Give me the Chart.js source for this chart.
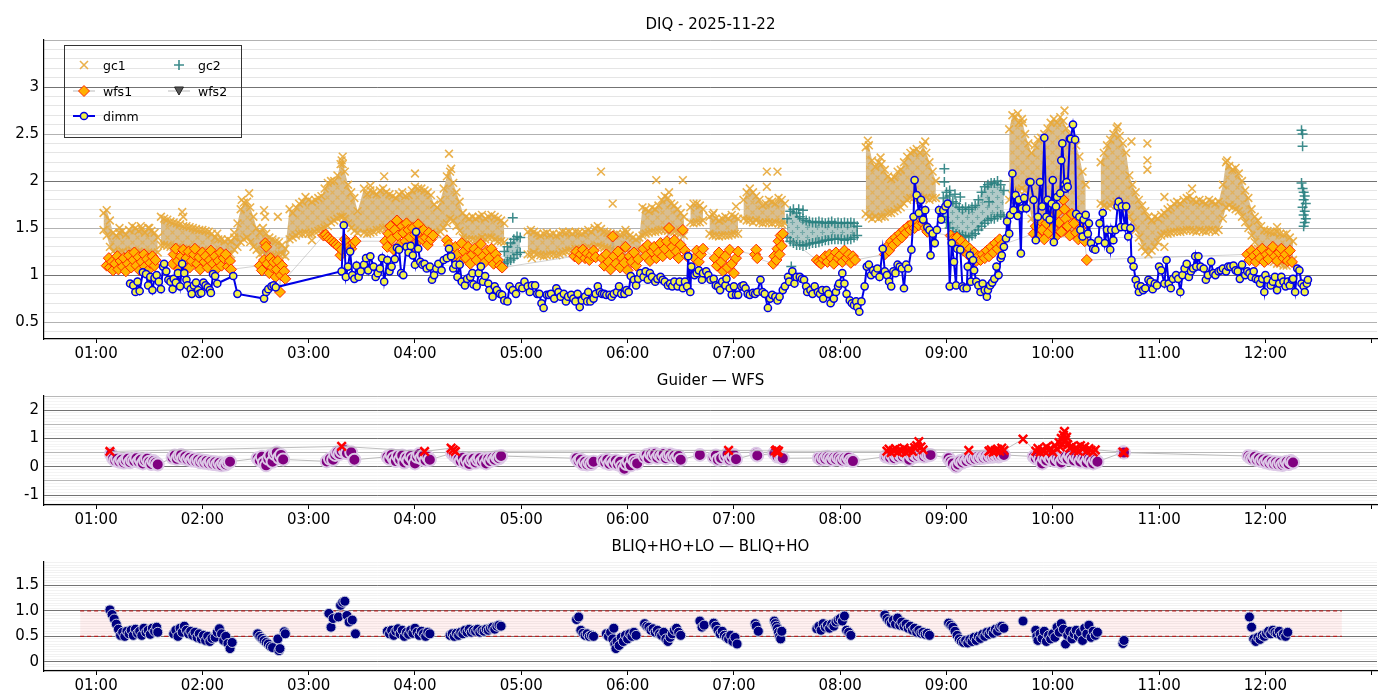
<!DOCTYPE html>
<html>
<head>
<meta charset="utf-8">
<script src="https://cdn.jsdelivr.net/npm/chart.js@4.4.1/dist/chart.umd.min.js"></script>
<style>
  html, body { margin: 0; padding: 0; background: #fff; overflow: hidden; }
  .panel { position: absolute; left: 0; width: 1400px; }
</style>
</head>
<body>
<div class="panel" style="top:0;height:365px"><canvas id="c1"></canvas></div>
<div class="panel" style="top:365px;height:165px"><canvas id="c2"></canvas></div>
<div class="panel" style="top:530px;height:170px"><canvas id="c3"></canvas></div>
<script>
// time axis: decimal hours UT
const hourTicks = [1, 2, 3, 4, 5, 6, 7, 8, 9, 10, 11, 12, 13];
const hourLabels = ['01:00', '02:00', '03:00', '04:00', '05:00', '06:00', '07:00', '08:00', '09:00', '10:00', '11:00', '12:00', ''];
const titles = ['DIQ - 2025-11-22', 'Guider \u2014 WFS', 'BLIQ+HO+LO \u2014 BLIQ+HO'];
const seriesNames = ['gc1', 'gc2', 'wfs1', 'wfs2', 'dimm'];

const diqTicks = [0.5, 1, 1.5, 2, 2.5, 3];
const diqTickText = ['0.5', '1', '1.5', '2', '2.5', '3'];
const gwTicks = [-1, 0, 1, 2];
const gwTickText = ['-1', '0', '1', '2'];
const blTicks = [0, 0.5, 1, 1.5];
const blTickText = ['0', '0.5', '1.0', '1.5'];

// [time, value]
const dimm = [
  [1.32,.91],[1.35,.89],[1.37,.82],[1.39,.93],[1.41,.83],[1.44,1.03],[1.47,1.01],[1.49,.89],[1.51,.98],[1.53,.84],
  [1.55,.97],[1.57,1.00],[1.59,.93],[1.61,.85],[1.63,1.09],[1.64,1.12],[1.66,1.04],[1.68,.95],[1.70,.93],[1.72,.85],
  [1.73,.96],[1.75,.92],[1.77,1.02],[1.79,.88],[1.81,1.12],[1.83,1.02],[1.85,.95],[1.86,.89],[1.89,.85],[1.90,.80],
  [1.92,.89],[1.94,.92],[1.96,.84],[1.97,.80],[1.99,.81],[2.01,.92],[2.03,.89],[2.05,.87],[2.07,.84],[2.08,.81],
  [2.10,1.01],[2.12,.99],[2.14,.91],[2.29,.99],[2.33,.80],[2.58,.75],[2.60,.82],[2.62,.85],[2.65,.88],[2.67,.89],[2.69,.87],
  [3.31,1.04],[3.33,1.53],[3.35,.98],[3.37,1.09],[3.39,1.25],[3.41,1.00],[3.43,.96],[3.45,1.10],[3.47,.98],[3.49,1.04],
  [3.52,1.11],[3.54,1.18],[3.56,1.05],[3.58,1.20],[3.61,1.09],[3.63,.98],[3.65,1.02],[3.67,1.07],[3.69,1.18],[3.71,.93],
  [3.74,1.16],[3.76,1.04],[3.78,1.09],[3.81,1.17],[3.83,1.29],[3.85,1.27],[3.87,1.02],[3.89,1.00],[3.92,1.30],[3.94,1.24],
  [3.96,1.31],[3.98,1.21],[4.00,1.11],[4.01,1.46],[4.03,1.28],[4.05,1.14],[4.07,1.11],[4.09,1.12],[4.11,1.07],[4.14,1.09],
  [4.16,.95],[4.18,1.00],[4.20,1.07],[4.22,1.12],[4.25,1.05],[4.27,1.16],[4.30,1.18],[4.32,1.28],[4.34,1.20],[4.36,1.07],
  [4.38,1.11],[4.40,.98],[4.42,1.11],[4.44,.93],[4.47,.89],[4.49,.96],[4.52,.98],[4.54,1.02],[4.55,.90],[4.58,.88],
  [4.60,1.02],[4.62,1.09],[4.64,.93],[4.66,.99],[4.69,.91],[4.70,.84],[4.73,.77],[4.75,.88],[4.77,.84],[4.80,.80],
  [4.82,.79],[4.84,.73],[4.87,.72],[4.89,.88],[4.92,.84],[4.95,.80],[4.98,.88],[5.01,.86],[5.03,.93],[5.06,.88],
  [5.08,.82],[5.10,.89],[5.13,.89],[5.15,.80],[5.17,.80],[5.19,.70],[5.21,.65],[5.24,.79],[5.26,.79],[5.28,.80],
  [5.31,.75],[5.33,.86],[5.35,.82],[5.37,.77],[5.40,.80],[5.42,.72],[5.44,.77],[5.47,.79],[5.49,.75],[5.51,.72],
  [5.53,.80],[5.55,.66],[5.57,.73],[5.60,.77],[5.62,.72],[5.63,.82],[5.65,.72],[5.68,.75],[5.70,.80],[5.72,.88],
  [5.74,.82],[5.76,.80],[5.78,.80],[5.80,.79],[5.83,.79],[5.85,.77],[5.87,.80],[5.90,.82],[5.92,.88],[5.94,.80],
  [5.97,.80],[5.99,.84],[6.01,.82],[6.03,.99],[6.06,.95],[6.08,.89],[6.10,.96],[6.12,1.02],[6.15,.98],[6.17,1.04],
  [6.19,.95],[6.21,1.02],[6.23,.98],[6.26,.93],[6.28,.96],[6.31,.98],[6.33,.95],[6.35,.93],[6.38,.89],[6.40,.91],
  [6.42,.88],[6.44,.93],[6.47,.88],[6.49,.93],[6.52,.86],[6.54,.93],[6.56,.88],[6.57,1.20],[6.59,.82],[6.60,1.09],
  [6.63,1.00],[6.65,1.02],[6.67,1.05],[6.70,.95],[6.71,1.02],[6.74,1.04],[6.76,1.00],[6.78,.95],[6.81,.96],[6.83,.89],
  [6.85,.88],[6.87,.84],[6.89,.93],[6.92,.89],[6.93,.96],[6.96,.86],[6.98,.79],[7.00,.88],[7.02,.79],[7.04,.79],
  [7.07,.88],[7.09,.89],[7.11,.86],[7.13,.80],[7.15,.79],[7.18,.81],[7.20,.80],[7.22,.82],[7.25,.95],[7.27,.82],
  [7.29,.80],[7.32,.65],[7.34,.75],[7.36,.79],[7.39,.77],[7.41,.73],[7.43,.77],[7.46,.84],[7.48,.88],[7.51,.98],
  [7.52,.93],[7.55,1.04],[7.57,.91],[7.59,.98],[7.62,.98],[7.64,.96],[7.66,.95],[7.68,.88],[7.69,.82],[7.72,.84],
  [7.74,.80],[7.76,.88],[7.79,.82],[7.81,.80],[7.83,.84],[7.84,.75],[7.87,.84],[7.89,.80],[7.91,.70],[7.94,.75],
  [7.96,.82],[7.98,.88],[7.99,.91],[8.02,1.02],[8.04,.91],[8.06,.80],[8.09,.73],[8.11,.70],[8.13,.68],[8.15,.72],
  [8.16,.66],[8.18,.61],[8.20,.72],[8.23,.88],[8.25,1.09],[8.27,1.11],[8.29,1.00],[8.31,1.05],[8.33,1.02],[8.35,1.07],
  [8.37,.98],[8.40,1.28],[8.42,1.04],[8.44,1.00],[8.46,.93],[8.48,.88],[8.50,1.04],[8.52,1.02],[8.54,1.11],[8.56,1.09],
  [8.58,1.07],[8.60,.86],[8.62,1.11],[8.64,1.07],[8.67,1.27],[8.69,1.62],[8.70,2.01],[8.72,1.85],[8.74,1.66],[8.76,1.80],
  [8.78,1.59],[8.80,1.69],[8.82,1.51],[8.84,1.48],[8.85,1.21],[8.87,1.44],[8.89,1.34],[8.91,1.48],[8.93,1.69],[8.95,1.59],
  [8.97,1.69],[8.99,1.73],[9.01,1.76],[9.03,.88],[9.05,1.34],[9.07,1.14],[9.09,.89],[9.10,1.28],[9.13,1.27],[9.15,.88],
  [9.16,.86],[9.19,.86],[9.20,1.09],[9.22,1.21],[9.23,.93],[9.25,1.16],[9.26,1.05],[9.28,.93],[9.30,.89],[9.32,.82],
  [9.34,.91],[9.36,.84],[9.38,.77],[9.39,.84],[9.41,.89],[9.43,.92],[9.45,.96],[9.47,1.09],[9.49,1.00],[9.51,1.18],
  [9.52,1.21],[9.54,1.30],[9.56,1.39],[9.57,1.57],[9.59,1.44],[9.60,1.64],[9.62,2.08],[9.63,1.69],[9.65,1.85],[9.67,1.63],
  [9.68,1.80],[9.70,1.23],[9.71,1.71],[9.73,1.82],[9.75,1.71],[9.78,1.99],[9.79,1.99],[9.82,1.80],[9.84,1.37],[9.86,1.62],
  [9.88,1.99],[9.90,1.73],[9.92,2.46],[9.94,1.62],[9.95,1.80],[9.97,1.59],[9.99,1.76],[10.00,2.01],[10.01,1.35],[10.03,1.73],
  [10.04,1.83],[10.07,1.87],[10.08,2.22],[10.09,2.40],[10.11,1.96],[10.12,1.92],[10.13,1.99],[10.14,1.94],[10.16,2.45],[10.17,2.45],
  [10.19,2.60],[10.21,2.44],[10.22,1.65],[10.25,1.62],[10.26,1.48],[10.28,1.41],[10.29,1.59],[10.31,1.64],[10.33,1.44],[10.34,1.55],
  [10.36,1.34],[10.38,1.28],[10.40,1.27],[10.43,1.37],[10.44,1.55],[10.47,1.66],[10.49,1.34],[10.51,1.48],[10.54,1.27],[10.55,1.48],
  [10.57,1.37],[10.59,1.48],[10.61,1.73],[10.62,1.78],[10.64,1.51],[10.65,1.73],[10.68,1.51],[10.69,1.73],[10.71,1.41],[10.73,1.50],
  [10.74,1.16],[10.76,1.09],[10.78,.95],[10.80,.89],[10.81,.82],[10.83,.88],[10.85,.84],[10.87,.86],[10.90,.95],[10.92,.93],
  [10.94,.85],[10.96,.91],[10.98,.89],[11.00,1.09],[11.02,1.05],[11.05,.91],[11.07,1.16],[11.09,.91],[11.11,.86],[11.13,.96],
  [11.16,1.00],[11.18,.96],[11.20,.82],[11.22,1.00],[11.24,1.07],[11.26,1.12],[11.28,.98],[11.30,1.04],[11.32,1.07],[11.34,1.20],
  [11.35,1.09],[11.37,1.20],[11.39,1.09],[11.42,1.07],[11.44,.95],[11.46,1.00],[11.49,1.14],[11.51,1.02],[11.53,1.00],[11.56,1.04],
  [11.58,1.05],[11.60,1.07],[11.63,1.04],[11.65,1.09],[11.67,1.09],[11.70,1.10],[11.72,1.05],[11.74,1.04],[11.76,.96],[11.78,1.11],
  [11.81,1.00],[11.83,1.04],[11.85,1.02],[11.87,.98],[11.89,1.04],[11.91,.96],[11.93,.95],[11.95,.91],[11.97,.96],[11.99,.82],
  [12.00,1.00],[12.02,.95],[12.05,.89],[12.07,.93],[12.09,.98],[12.11,.84],[12.13,.91],[12.15,.98],[12.17,.93],[12.19,.88],
  [12.21,.93],[12.23,.89],[12.25,.95],[12.26,.96],[12.28,.82],[12.30,1.07],[12.32,1.05],[12.34,.91],[12.36,.88],[12.37,.82],
  [12.39,.91],[12.40,.95]
];

// gc1 dense cloud: [time, upper edge, lower edge]; null = no data
const gc1Band = [
  [1.07,1.66,1.48],[1.10,1.69,1.42],[1.13,1.58,1.30],[1.16,1.45,1.25],[1.19,1.42,1.22],[1.22,1.50,1.24],[1.25,1.47,1.25],
  [1.28,1.43,1.22],[1.31,1.48,1.24],[1.34,1.52,1.26],[1.37,1.50,1.24],[1.40,1.47,1.25],[1.43,1.49,1.23],[1.46,1.45,1.22],
  [1.49,1.50,1.24],[1.52,1.47,1.23],[1.55,1.45,1.22],[1.58,1.40,1.24],[1.595,null,null],
  [1.61,1.62,1.32],[1.64,1.60,1.32],[1.67,1.59,1.31],[1.70,1.57,1.30],[1.73,1.56,1.30],[1.76,1.55,1.29],[1.79,1.54,1.28],
  [1.82,1.52,1.28],[1.85,1.52,1.28],[1.88,1.51,1.27],[1.91,1.50,1.27],[1.94,1.49,1.27],[1.97,1.48,1.26],[2.00,1.48,1.26],
  [2.03,1.47,1.25],[2.06,1.46,1.25],[2.09,1.44,1.24],[2.12,1.40,1.23],[2.15,1.38,1.22],[2.18,1.38,1.22],[2.21,1.36,1.21],
  [2.24,1.38,1.22],[2.27,1.36,1.22],[2.30,1.40,1.27],[2.33,1.55,1.30],[2.36,1.70,1.35],[2.39,1.77,1.38],[2.42,1.78,1.40],
  [2.45,1.72,1.35],[2.48,1.62,1.30],[2.51,1.50,1.27],[2.54,1.45,1.22],[2.57,1.50,1.24],[2.60,1.44,1.22],[2.63,1.40,1.20],
  [2.66,1.38,1.20],[2.69,1.36,1.20],[2.72,1.35,1.22],[2.75,1.32,1.22],[2.78,1.28,1.20],
  [2.82,1.70,1.38],[2.85,1.66,1.40],[2.88,1.72,1.42],[2.91,1.76,1.44],[2.94,1.78,1.44],[2.97,1.83,1.45],[3.00,1.80,1.44],
  [3.03,1.78,1.44],[3.06,1.80,1.46],[3.09,1.82,1.47],[3.12,1.84,1.49],[3.15,1.92,1.50],[3.18,1.98,1.52],[3.21,2.00,1.56],
  [3.24,2.00,1.58],[3.27,2.06,1.60],[3.30,2.18,1.62],[3.32,2.26,1.62],[3.34,2.10,1.60],[3.37,1.96,1.55],[3.40,1.88,1.50],
  [3.43,1.82,1.47],[3.46,1.68,1.45],
  [3.52,1.92,1.45],[3.55,1.86,1.44],[3.58,1.90,1.45],[3.61,1.88,1.46],[3.64,1.86,1.48],[3.67,1.90,1.48],[3.70,1.92,1.50],
  [3.73,1.88,1.50],[3.76,1.86,1.50],[3.79,1.84,1.48],[3.82,1.82,1.47],[3.85,1.86,1.47],[3.88,1.88,1.48],[3.91,1.84,1.47],
  [3.94,1.85,1.47],[3.97,1.90,1.48],[4.00,1.94,1.50],[4.03,1.92,1.50],[4.06,1.92,1.50],[4.09,1.90,1.48],[4.12,1.88,1.46],
  [4.15,1.85,1.45],[4.18,1.75,1.43],[4.21,1.72,1.44],[4.24,1.80,1.46],[4.27,1.92,1.50],[4.30,2.05,1.55],[4.33,2.10,1.60],
  [4.36,1.98,1.58],[4.39,1.88,1.52],[4.42,1.78,1.47],[4.45,1.66,1.40],[4.48,1.62,1.38],[4.51,1.60,1.38],[4.54,1.62,1.38],
  [4.57,1.60,1.37],[4.60,1.62,1.38],[4.63,1.64,1.40],[4.66,1.60,1.38],[4.69,1.62,1.40],[4.72,1.64,1.40],[4.75,1.62,1.38],
  [4.78,1.60,1.36],[4.81,1.58,1.36],[4.84,1.55,1.35],[4.95,null,null],
  [5.06,1.46,1.22],[5.09,1.48,1.22],[5.12,1.46,1.24],[5.15,1.44,1.22],[5.18,1.42,1.21],[5.21,1.44,1.20],[5.24,1.45,1.21],
  [5.27,1.43,1.22],[5.30,1.44,1.22],[5.33,1.42,1.21],[5.36,1.44,1.22],[5.39,1.46,1.24],[5.42,1.45,1.25],[5.45,1.46,1.26],
  [5.48,1.44,1.26],[5.51,1.46,1.28],[5.54,1.45,1.28],[5.57,1.44,1.27],[5.60,1.46,1.28],[5.63,1.48,1.30],[5.66,1.46,1.28],
  [5.69,1.50,1.30],[5.72,1.52,1.31],[5.75,1.49,1.30],[5.78,1.46,1.29],[5.81,1.45,1.28],[5.84,1.44,1.27],[5.87,1.42,1.26],
  [5.90,1.44,1.25],[5.93,1.43,1.25],[5.96,1.44,1.24],[5.99,1.45,1.26],[6.02,1.42,1.24],[6.05,1.40,1.22],[6.08,1.38,1.23],
  [6.11,1.40,1.24],[6.14,1.72,1.42],[6.17,1.70,1.44],[6.20,1.68,1.45],[6.23,1.72,1.46],[6.26,1.70,1.46],[6.29,1.74,1.47],
  [6.32,1.80,1.48],[6.35,1.84,1.48],[6.38,1.82,1.47],[6.41,1.76,1.46],[6.44,1.74,1.46],[6.47,1.70,1.45],[6.50,1.66,1.44],
  [6.53,1.62,1.42],[6.56,null,null],
  [6.59,1.72,1.56],[6.62,1.76,1.55],[6.65,1.76,1.56],[6.68,1.74,1.56],[6.71,1.70,1.58],[6.74,null,null],
  [6.77,1.62,1.44],[6.80,1.64,1.42],[6.83,1.60,1.42],[6.86,1.58,1.41],[6.89,1.60,1.42],[6.92,1.62,1.42],[6.95,1.60,1.42],
  [6.98,1.64,1.43],[7.01,1.62,1.44],[7.04,1.60,1.44],[7.065,null,null],
  [7.09,1.80,1.60],[7.12,1.88,1.58],[7.15,1.92,1.58],[7.18,1.88,1.56],[7.21,1.84,1.58],[7.24,1.80,1.56],[7.27,1.74,1.55],
  [7.30,1.76,1.56],[7.33,1.80,1.56],[7.36,1.78,1.55],[7.39,1.76,1.56],[7.42,1.82,1.55],[7.45,1.80,1.54],[7.48,1.76,1.55],
  [7.80,null,null],
  [8.24,2.36,1.65],[8.27,2.38,1.62],[8.30,2.22,1.60],[8.33,2.15,1.62],[8.36,2.20,1.60],[8.39,2.18,1.62],[8.42,2.12,1.62],
  [8.45,2.05,1.66],[8.48,2.02,1.66],[8.51,2.04,1.68],[8.54,2.10,1.70],[8.57,2.12,1.72],[8.60,2.20,1.76],[8.63,2.26,1.80],
  [8.66,2.30,1.82],[8.69,2.32,1.82],[8.72,2.34,1.80],[8.75,2.30,1.80],[8.78,2.38,1.82],[8.81,2.30,1.82],[8.84,2.20,1.80],
  [8.87,2.10,1.82],[8.90,2.00,1.82],[9.20,null,null],
  [9.59,2.55,1.80],[9.62,2.70,1.85],[9.65,2.68,1.88],[9.68,2.62,1.90],[9.71,2.66,1.92],[9.74,2.50,1.90],[9.77,2.40,1.80],
  [9.80,2.30,1.60],[9.83,2.38,1.55],[9.86,2.44,1.52],[9.89,2.46,1.50],[9.92,2.50,1.48],[9.95,2.56,1.47],[9.98,2.62,1.48],
  [10.01,2.66,1.50],[10.04,2.62,1.50],[10.07,2.68,1.48],[10.10,2.64,1.46],[10.13,2.56,1.45],[10.16,2.50,1.45],[10.19,2.44,1.46],
  [10.22,2.38,1.46],[10.25,2.26,1.44],[10.28,2.10,1.42],[10.31,1.96,1.40],[10.40,null,null],
  [10.45,2.20,1.76],[10.48,2.30,1.74],[10.51,2.38,1.72],[10.54,2.44,1.74],[10.57,2.50,1.76],[10.60,2.56,1.78],[10.63,2.48,1.76],
  [10.66,2.40,1.74],[10.69,2.30,1.70],[10.72,2.06,1.62],[10.75,1.96,1.56],[10.78,1.88,1.48],[10.81,1.80,1.40],[10.84,1.74,1.30],
  [10.87,1.68,1.25],[10.90,1.62,1.22],[10.93,1.58,1.26],[10.96,1.62,1.30],[10.99,1.60,1.35],[11.02,1.64,1.42],[11.05,1.66,1.44],
  [11.08,1.70,1.44],[11.11,1.72,1.45],[11.14,1.76,1.46],[11.17,1.78,1.46],[11.20,1.76,1.46],[11.23,1.80,1.47],[11.26,1.82,1.48],
  [11.29,1.84,1.48],[11.32,1.80,1.47],[11.35,1.78,1.46],[11.38,1.80,1.48],[11.41,1.78,1.47],[11.44,1.76,1.46],[11.47,1.80,1.48],
  [11.50,1.78,1.48],[11.53,1.76,1.46],[11.56,1.78,1.48],[11.60,1.96,1.60],[11.63,2.20,1.72],[11.66,2.16,1.74],[11.69,2.12,1.72],
  [11.72,2.14,1.70],[11.75,2.08,1.68],[11.78,2.00,1.62],[11.81,1.90,1.56],[11.84,1.82,1.50],[11.87,1.70,1.42],[11.90,1.62,1.35],
  [11.93,1.58,1.28],[11.96,1.52,1.24],[11.99,1.48,1.20],[12.02,1.47,1.18],[12.05,1.46,1.16],[12.08,1.45,1.14],[12.11,1.46,1.12],
  [12.14,1.44,1.12],[12.17,1.43,1.10],[12.20,1.44,1.10],[12.23,1.40,1.12],[12.26,1.36,1.16]
];
const gc1Out = [
  [1.22,1.45],[1.42,1.52],[1.50,1.50],[1.81,1.67],[1.82,1.62],[2.14,1.44],[2.30,1.45],[2.37,1.80],[2.44,1.87],[2.58,1.69],
  [2.59,1.62],[2.71,1.62],[3.03,1.37],[3.31,2.22],[3.32,2.18],[3.58,1.95],[3.71,2.05],[4.00,2.08],[4.32,2.29],[4.34,2.13],
  [5.10,1.18],[5.75,2.10],[5.86,1.76],[5.98,1.48],[6.27,2.01],[6.39,1.88],[6.52,2.01],[6.81,1.66],[7.02,1.73],[7.31,2.10],
  [7.31,1.94],[7.41,2.10],[8.26,2.43],[8.38,2.25],[8.80,2.42],[9.67,2.72],[9.72,2.62],[10.11,2.75],[10.61,2.58],[10.74,2.42],
  [10.89,2.40],[10.89,2.22],[10.89,2.12],[11.05,1.83],[11.05,1.30],[11.31,1.92],[11.64,2.22],[12.11,1.51]
];

// gc2 cloud: [time, upper edge, lower edge]
const gc2Band = [
  [4.84,1.25,1.12],[4.87,1.30,1.14],[4.90,1.34,1.16],[4.93,1.38,1.18],[4.96,1.41,1.22],[4.99,1.40,1.24],[5.02,null,null],
  [7.50,1.60,1.40],[7.53,1.68,1.36],[7.56,1.70,1.34],[7.59,1.66,1.32],[7.62,1.62,1.32],[7.65,1.60,1.31],[7.68,1.58,1.32],
  [7.71,1.57,1.33],[7.74,1.56,1.34],[7.77,1.56,1.34],[7.80,1.57,1.35],[7.83,1.56,1.36],[7.86,1.55,1.37],[7.89,1.56,1.37],
  [7.92,1.57,1.38],[7.95,1.55,1.38],[7.98,1.56,1.38],[8.01,1.55,1.38],[8.04,1.56,1.37],[8.07,1.55,1.38],[8.10,1.56,1.38],
  [8.13,1.55,1.40],[8.16,1.52,1.42],[8.50,null,null],
  [8.97,1.82,1.62],[9.00,1.88,1.56],[9.03,1.84,1.50],[9.06,1.78,1.46],[9.09,1.76,1.44],[9.12,1.72,1.43],[9.15,1.70,1.42],
  [9.18,1.72,1.41],[9.21,1.70,1.40],[9.24,1.72,1.42],[9.27,1.74,1.44],[9.30,1.80,1.48],[9.33,1.88,1.52],[9.36,1.94,1.55],
  [9.39,1.96,1.58],[9.42,1.98,1.60],[9.45,1.98,1.60],[9.48,2.00,1.62],[9.51,1.96,1.64],[9.54,1.90,1.62]
];
const gc2Pts = [
  [4.92,1.61],[7.54,1.09],[7.61,1.70],[7.65,1.69],[8.98,2.13],[8.98,1.99],[9.03,1.90],[9.08,1.86],[9.13,1.83],[9.40,1.78],
  [12.34,2.54],[12.35,2.50],[12.35,2.37],[12.34,1.98],[12.35,1.92],[12.36,1.88],[12.37,1.84],[12.36,1.80],[12.38,1.76],
  [12.35,1.72],[12.37,1.68],[12.36,1.64],[12.38,1.60],[12.37,1.56],[12.36,1.52]
];

const wfs1 = [
  [1.10,1.10],[1.12,1.18],[1.13,1.08],[1.15,1.14],[1.16,1.05],[1.18,1.12],[1.20,1.20],[1.21,1.06],[1.23,1.15],[1.25,1.09],
  [1.26,1.18],[1.28,1.04],[1.30,1.12],[1.31,1.21],[1.33,1.08],[1.35,1.16],[1.36,1.24],[1.38,1.10],[1.40,1.19],[1.41,1.05],
  [1.43,1.14],[1.45,1.22],[1.46,1.09],[1.48,1.17],[1.50,1.06],[1.51,1.13],[1.53,1.20],[1.55,1.10],[1.56,1.16],
  [1.72,1.12],[1.73,1.22],[1.75,1.28],[1.77,1.15],[1.78,1.06],[1.80,1.20],[1.82,1.27],[1.83,1.10],[1.85,1.18],[1.87,1.25],
  [1.88,1.08],[1.90,1.15],[1.92,1.22],[1.93,1.28],[1.95,1.12],[1.97,1.19],[1.98,1.06],[2.00,1.24],[2.02,1.14],[2.03,1.20],
  [2.05,1.08],[2.07,1.16],[2.08,1.26],[2.10,1.12],[2.12,1.20],[2.13,1.06],[2.15,1.15],[2.17,1.24],[2.18,1.10],[2.20,1.18],
  [2.22,1.22],[2.24,1.09],[2.26,1.15],[2.27,1.06],
  [2.54,1.10],[2.56,1.05],[2.58,1.16],[2.59,1.34],[2.60,1.30],[2.61,1.12],[2.63,1.02],[2.64,1.18],[2.66,1.08],[2.67,1.14],
  [2.69,.98],[2.70,1.06],[2.71,1.15],[2.73,.82],[2.74,1.00],[2.75,1.10],[2.77,1.04],[2.78,.96],
  [3.14,1.42],[3.16,1.43],[3.18,1.40],[3.20,1.38],[3.22,1.36],[3.24,1.34],[3.26,1.32],[3.28,1.30],[3.30,1.21],[3.31,1.27],
  [3.34,1.38],[3.36,1.34],[3.38,1.30],[3.40,1.28],[3.42,1.34],[3.44,1.36],
  [3.72,1.36],[3.74,1.30],[3.75,1.44],[3.77,1.52],[3.78,1.38],[3.80,1.27],[3.81,1.48],[3.83,1.58],[3.84,1.42],[3.86,1.33],
  [3.88,1.52],[3.89,1.45],[3.91,1.36],[3.92,1.55],[3.94,1.48],[3.95,1.40],[3.97,1.30],[3.98,1.50],[4.00,1.43],[4.02,1.35],
  [4.03,1.54],[4.05,1.46],[4.07,1.38],[4.08,1.48],[4.10,1.40],[4.12,1.32],[4.13,1.45],[4.15,1.38],[4.17,1.42],
  [4.30,1.37],[4.32,1.32],[4.34,1.26],[4.36,1.18],[4.38,1.30],[4.40,1.22],[4.42,1.14],[4.44,1.34],[4.46,1.25],[4.48,1.18],
  [4.50,1.30],[4.52,1.12],[4.54,1.22],[4.56,1.28],[4.58,1.16],[4.60,1.25],[4.62,1.33],[4.64,1.20],[4.66,1.14],[4.68,1.26],
  [4.70,1.18],[4.72,1.28],[4.74,1.12],[4.76,1.22],[4.78,1.16],[4.80,1.10],[4.82,1.08],
  [5.50,1.20],[5.52,1.25],[5.54,1.17],[5.56,1.22],[5.58,1.27],[5.60,1.18],[5.62,1.23],[5.64,1.16],[5.66,1.21],[5.68,1.26],[5.70,1.19],
  [5.76,1.18],[5.78,1.10],[5.80,1.22],[5.82,1.14],[5.84,1.06],[5.86,1.41],[5.87,1.20],[5.89,1.12],[5.91,1.25],[5.93,1.08],
  [5.95,1.18],[5.97,1.13],[5.98,1.30],[6.00,1.05],[6.02,1.20],[6.04,1.14],[6.06,1.24],[6.08,1.10],[6.10,1.17],
  [6.15,1.28],[6.17,1.20],[6.19,1.32],[6.21,1.15],[6.23,1.25],[6.25,1.30],[6.27,1.18],[6.29,1.24],[6.31,1.34],[6.33,1.20],
  [6.35,1.28],[6.37,1.36],[6.39,1.50],[6.40,1.22],[6.42,1.30],[6.44,1.37],[6.46,1.25],[6.48,1.18],[6.50,1.32],[6.52,1.48],
  [6.54,1.26],[6.56,1.20],
  [6.63,1.18],[6.65,1.26],[6.67,1.14],[6.69,1.22],[6.71,1.28],
  [6.82,1.18],[6.84,1.10],[6.86,1.24],[6.88,1.14],[6.90,1.04],[6.92,1.20],[6.94,1.08],[6.96,1.27],[6.98,1.12],[7.00,1.02],
  [7.02,1.18],[7.04,1.25],
  [7.20,1.22],[7.21,1.27],[7.22,1.18],
  [7.37,1.12],[7.38,1.20],[7.40,1.16],[7.41,1.28],[7.42,1.36],[7.43,1.22],[7.44,1.42],[7.45,1.31],[7.46,1.44],
  [7.78,1.16],[7.80,1.14],[7.82,1.12],[7.84,1.17],[7.86,1.20],[7.88,1.14],[7.90,1.22],[7.92,1.18],[7.94,1.12],[7.96,1.24],
  [7.98,1.18],[8.00,1.21],[8.02,1.14],[8.04,1.26],[8.06,1.18],[8.08,1.22],[8.10,1.13],[8.12,1.20],[8.14,1.16],
  [8.42,1.22],[8.44,1.30],[8.46,1.26],[8.48,1.36],[8.50,1.32],[8.52,1.40],[8.54,1.36],[8.56,1.44],[8.58,1.40],[8.60,1.48],
  [8.62,1.45],[8.64,1.52],[8.66,1.48],[8.68,1.55],[8.70,1.50],[8.72,1.58],[8.74,1.53],[8.76,1.60],[8.78,1.55],[8.80,1.50],[8.82,1.46],
  [9.04,1.42],[9.06,1.38],[9.08,1.34],[9.10,1.40],[9.12,1.30],[9.14,1.36],[9.16,1.26],[9.18,1.32],[9.20,1.22],[9.22,1.28],
  [9.24,1.18],[9.26,1.24],[9.28,1.15],[9.30,1.20],[9.32,1.16],[9.34,1.22],[9.36,1.18],[9.38,1.26],[9.40,1.20],[9.42,1.30],
  [9.44,1.24],[9.46,1.34],[9.48,1.28],[9.50,1.38],[9.52,1.32],
  [9.82,1.44],[9.84,1.52],[9.86,1.40],[9.88,1.58],[9.90,1.48],[9.92,1.38],[9.94,1.55],[9.96,1.45],[9.98,1.62],[10.00,1.50],
  [10.02,1.40],[10.04,1.66],[10.06,1.56],[10.08,1.46],[10.10,1.80],[10.11,1.70],[10.12,1.60],[10.14,1.52],[10.16,1.42],[10.18,1.65],
  [10.20,1.55],[10.22,1.45],[10.24,1.38],[10.26,1.50],[10.28,1.42],[10.30,1.36],[10.32,1.16],
  [11.83,1.22],[11.85,1.16],[11.87,1.26],[11.89,1.20],[11.91,1.14],[11.93,1.24],[11.95,1.18],[11.97,1.28],[11.99,1.14],[12.01,1.22],
  [12.03,1.17],[12.05,1.25],[12.07,1.30],[12.09,1.20],[12.11,1.15],[12.13,1.24],[12.15,1.28],[12.17,1.18],[12.19,1.22],[12.21,1.15],
  [12.23,1.26],[12.25,1.14]
];
const wfs2 = [];

const guider = [
  [1.14,.45],[1.16,.30],[1.18,.22],[1.20,.28],[1.22,.18],[1.24,.25],[1.26,.15],[1.28,.22],[1.30,.28],[1.32,.16],[1.34,.24],
  [1.36,.20],[1.38,.30],[1.40,.18],[1.42,.25],[1.44,.12],[1.46,.22],[1.48,.28],[1.50,.18],[1.52,.10],[1.54,.20],[1.56,.14],[1.58,.08],
  [1.72,.32],[1.74,.40],[1.76,.28],[1.78,.38],[1.80,.42],[1.82,.30],[1.84,.36],[1.86,.26],[1.88,.32],[1.90,.22],[1.92,.28],
  [1.94,.20],[1.96,.25],[1.98,.16],[2.00,.22],[2.02,.14],[2.04,.20],[2.06,.12],[2.08,.18],[2.10,.10],[2.12,.16],[2.14,.08],
  [2.16,.14],[2.18,.05],[2.20,.12],[2.22,.08],[2.24,.15],[2.26,.18],
  [2.52,.30],[2.54,.22],[2.56,.35],[2.58,.15],[2.60,.05],[2.62,.28],[2.64,.40],[2.66,.18],[2.68,.45],[2.70,.50],[2.72,.32],[2.74,.42],[2.76,.26],
  [3.17,.19],[3.20,.28],[3.23,.25],[3.25,.42],[3.27,.51],[3.29,.45],[3.31,.55],[3.34,.58],[3.36,.48],[3.40,.51],[3.43,.25],
  [3.74,.35],[3.76,.28],[3.78,.42],[3.80,.30],[3.82,.20],[3.84,.38],[3.86,.25],[3.88,.40],[3.90,.15],[3.92,.32],[3.94,.22],
  [3.96,.38],[3.98,.28],[4.00,.12],[4.02,.35],[4.04,.45],[4.06,.30],[4.08,.40],[4.10,.22],[4.12,.35],[4.14,.25],
  [4.35,.48],[4.37,.40],[4.39,.35],[4.41,.28],[4.43,.20],[4.45,.32],[4.47,.15],[4.49,.25],[4.51,.10],[4.53,.22],[4.55,.28],
  [4.57,.15],[4.59,.25],[4.61,.30],[4.63,.18],[4.65,.26],[4.67,.12],[4.69,.28],[4.71,.20],[4.73,.32],[4.75,.25],[4.77,.35],[4.79,.30],[4.81,.38],
  [5.52,.30],[5.54,.20],[5.56,.25],[5.58,.10],[5.60,.18],[5.62,.08],[5.64,.15],[5.66,.10],[5.68,.18],
  [5.77,.22],[5.79,.15],[5.81,.25],[5.83,.10],[5.85,.20],[5.87,.12],[5.89,.22],[5.91,.08],[5.93,.18],[5.95,.02],[5.97,-.07],
  [5.99,.10],[6.01,.20],[6.03,.05],[6.05,.28],[6.07,.18],[6.09,.12],
  [6.16,.35],[6.18,.42],[6.20,.30],[6.22,.45],[6.24,.38],[6.26,.46],[6.28,.32],[6.30,.42],[6.32,.36],[6.34,.45],[6.36,.30],
  [6.38,.40],[6.40,.44],[6.42,.34],[6.44,.40],[6.46,.30],[6.48,.38],[6.50,.25],
  [6.68,.42],[6.81,.34],[6.83,.40],[6.85,.25],[6.88,.30],[6.92,.36],[6.94,.45],[6.96,.25],[6.98,.32],[7.00,.42],[7.02,.27],
  [7.21,.46],[7.22,.40],[7.38,.48],[7.41,.36],[7.44,.34],[7.46,.30],
  [7.80,.31],[7.82,.26],[7.84,.33],[7.86,.28],[7.88,.35],[7.90,.30],[7.92,.24],[7.94,.32],[7.96,.27],[7.98,.34],[8.00,.28],
  [8.02,.22],[8.04,.30],[8.06,.25],[8.08,.32],[8.10,.22],[8.12,.20],
  [8.43,.36],[8.45,.40],[8.47,.32],[8.49,.42],[8.51,.30],[8.53,.40],[8.55,.35],[8.57,.42],[8.59,.36],[8.61,.44],[8.63,.38],
  [8.65,.25],[8.67,.40],[8.69,.34],[8.71,.42],[8.73,.38],[8.75,.45],[8.77,.40],[8.79,.36],[8.81,.44],[8.83,.40],[8.85,.42],
  [9.02,.30],[9.04,.19],[9.06,.12],[9.09,.01],[9.11,.08],[9.13,.20],[9.15,.15],[9.17,.25],[9.19,.20],[9.21,.30],[9.23,.25],
  [9.25,.33],[9.27,.28],[9.29,.35],[9.31,.30],[9.33,.36],[9.35,.32],[9.37,.38],[9.39,.34],[9.41,.40],[9.43,.35],[9.45,.38],
  [9.47,.42],[9.49,.36],[9.51,.40],[9.53,.44],[9.54,.42],
  [9.82,.36],[9.84,.30],[9.86,.40],[9.88,.25],[9.90,.12],[9.92,.30],[9.94,.22],[9.96,.35],[9.98,.28],[10.00,.38],[10.02,.20],
  [10.04,.32],[10.06,.25],[10.08,.15],[10.10,.30],[10.12,.36],[10.14,.28],[10.16,.40],[10.18,.30],[10.20,.22],[10.22,.35],
  [10.24,.28],[10.26,.18],[10.28,.32],[10.30,.25],[10.32,.15],[10.34,.30],[10.36,.22],[10.38,.12],[10.40,.25],[10.42,.18],
  [10.66,.51],[10.67,.50],
  [11.84,.38],[11.86,.32],[11.88,.28],[11.90,.35],[11.92,.24],[11.94,.30],[11.96,.20],[11.98,.26],[12.00,.16],[12.02,.22],
  [12.04,.12],[12.06,.18],[12.08,.10],[12.10,.16],[12.12,.08],[12.14,.14],[12.16,.06],[12.18,.12],[12.20,.18],[12.22,.10],
  [12.24,.20],[12.26,.15]
];
const wfs = [
  [1.13,.54],[3.31,.72],[4.09,.54],[4.34,.66],[4.36,.60],[4.38,.54],[6.95,.58],[7.39,.56],[7.40,.60],[7.41,.50],[7.42,.55],
  [8.44,.55],[8.46,.62],[8.48,.50],[8.50,.58],[8.52,.64],[8.54,.52],[8.56,.60],[8.58,.55],[8.60,.66],[8.62,.50],[8.64,.58],
  [8.66,.62],[8.68,.54],[8.70,.68],[8.72,.75],[8.74,.89],[8.76,.70],[8.78,.60],
  [9.21,.58],[9.40,.55],[9.42,.60],[9.44,.52],[9.46,.58],[9.48,.62],[9.50,.55],[9.52,.66],[9.54,.58],[9.72,.98],
  [9.84,.55],[9.86,.65],[9.88,.52],[9.90,.60],[9.92,.55],[9.94,.70],[9.96,.58],[9.98,.64],[10.00,.52],[10.02,.75],
  [10.04,.62],[10.06,.85],[10.07,.70],[10.08,1.00],[10.09,.80],[10.10,1.12],[10.11,1.25],[10.12,.95],[10.13,1.05],[10.14,.78],
  [10.16,.66],[10.18,.72],[10.20,.58],[10.22,.68],[10.24,.55],[10.26,.75],[10.28,.62],[10.30,.70],[10.32,.55],[10.34,.64],
  [10.36,.58],[10.38,.52],[10.40,.60],[10.66,.52],[10.67,.50]
];

const bliq = [
  [1.13,1.02],[1.15,.93],[1.17,.84],[1.19,.74],[1.21,.64],[1.23,.52],[1.25,.58],[1.27,.50],[1.29,.60],[1.31,.55],[1.33,.62],
  [1.35,.52],[1.37,.64],[1.39,.56],[1.41,.60],[1.43,.52],[1.45,.66],[1.47,.58],[1.49,.62],[1.51,.54],[1.53,.66],[1.55,.60],[1.57,.68],[1.58,.58],
  [1.73,.55],[1.75,.62],[1.77,.50],[1.79,.66],[1.81,.58],[1.83,.70],[1.85,.62],[1.87,.55],[1.89,.60],[1.91,.52],[1.93,.58],
  [1.95,.48],[1.97,.55],[1.99,.45],[2.01,.52],[2.03,.42],[2.05,.50],[2.07,.40],[2.09,.46],[2.12,.48],[2.14,.58],[2.16,.65],
  [2.18,.55],[2.20,.42],[2.22,.50],[2.24,.36],[2.26,.26],[2.28,.38],
  [2.52,.55],[2.54,.50],[2.56,.46],[2.58,.42],[2.60,.38],[2.62,.35],[2.64,.30],[2.66,.28],[2.71,.45],[2.72,.22],[2.73,.26],[2.77,.59],[2.78,.55],
  [3.19,.95],[3.21,.68],[3.23,.85],[3.28,.88],[3.30,1.11],[3.32,1.17],[3.34,1.19],[3.36,.91],[3.38,.78],[3.41,.82],[3.44,.55],
  [3.74,.60],[3.76,.55],[3.78,.62],[3.80,.52],[3.82,.60],[3.84,.65],[3.86,.55],[3.88,.62],[3.90,.50],[3.92,.58],[3.94,.54],
  [3.96,.62],[3.98,.56],[4.00,.66],[4.02,.58],[4.04,.52],[4.06,.60],[4.08,.55],[4.10,.50],[4.12,.58],[4.14,.55],
  [4.33,.52],[4.35,.55],[4.37,.50],[4.39,.56],[4.41,.52],[4.43,.58],[4.45,.55],[4.47,.62],[4.49,.58],[4.51,.64],[4.53,.58],
  [4.55,.62],[4.57,.60],[4.59,.64],[4.61,.58],[4.63,.62],[4.65,.60],[4.67,.64],[4.69,.62],[4.71,.66],[4.73,.68],[4.75,.64],
  [4.77,.70],[4.79,.72],[4.81,.70],
  [5.52,.83],[5.54,.88],[5.56,.62],[5.58,.56],[5.60,.52],[5.62,.55],[5.64,.50],[5.66,.52],[5.68,.50],
  [5.80,.55],[5.82,.50],[5.84,.58],[5.86,.45],[5.87,.66],[5.88,.35],[5.89,.26],[5.90,.40],[5.92,.32],[5.94,.48],[5.96,.40],
  [5.98,.52],[6.00,.45],[6.02,.55],[6.04,.50],[6.06,.58],[6.08,.52],
  [6.16,.75],[6.18,.70],[6.20,.68],[6.22,.62],[6.24,.65],[6.26,.58],[6.28,.62],[6.30,.55],[6.32,.52],[6.34,.58],[6.36,.45],
  [6.38,.40],[6.40,.48],[6.42,.55],[6.44,.62],[6.46,.66],[6.48,.58],[6.50,.52],
  [6.68,.80],[6.70,.68],[6.72,.72],
  [6.81,.76],[6.83,.70],[6.85,.62],[6.87,.55],[6.89,.60],[6.91,.52],[6.93,.48],[6.95,.45],[6.97,.52],[6.99,.40],[7.01,.48],[7.03,.35],
  [7.20,.75],[7.21,.70],[7.23,.60],
  [7.38,.80],[7.39,.75],[7.40,.70],[7.41,.65],[7.42,.58],[7.43,.50],[7.44,.45],[7.45,.60],
  [7.78,.65],[7.80,.70],[7.82,.62],[7.84,.75],[7.86,.68],[7.88,.72],[7.90,.66],[7.92,.74],[7.94,.70],[7.96,.78],[7.98,.82],
  [8.00,.85],[8.02,.80],[8.04,.90],[8.06,.62],[8.08,.58],[8.10,.52],
  [8.42,.92],[8.44,.85],[8.46,.80],[8.48,.76],[8.50,.82],[8.52,.74],[8.54,.86],[8.56,.72],[8.58,.78],[8.60,.70],[8.62,.74],
  [8.64,.66],[8.66,.70],[8.68,.62],[8.70,.66],[8.72,.58],[8.74,.62],[8.76,.56],[8.78,.58],[8.80,.54],[8.82,.56],[8.84,.52],
  [9.02,.76],[9.04,.72],[9.06,.68],[9.08,.60],[9.10,.52],[9.12,.45],[9.14,.40],[9.16,.38],[9.18,.42],[9.20,.37],[9.22,.44],
  [9.24,.40],[9.26,.48],[9.28,.42],[9.30,.50],[9.32,.46],[9.34,.54],[9.36,.50],[9.38,.58],[9.40,.54],[9.42,.60],[9.44,.56],
  [9.46,.64],[9.48,.60],[9.50,.68],[9.52,.70],[9.54,.66],
  [9.72,.80],
  [9.84,.62],[9.85,.50],[9.86,.42],[9.88,.55],[9.90,.46],[9.92,.60],[9.94,.40],[9.96,.52],[9.98,.45],[10.00,.55],[10.02,.48],
  [10.04,.68],[10.06,.58],[10.08,.75],[10.10,.64],[10.12,.35],[10.14,.52],[10.16,.60],[10.18,.45],[10.20,.55],[10.22,.62],
  [10.24,.50],[10.26,.58],[10.28,.42],[10.30,.66],[10.32,.55],[10.34,.72],[10.36,.48],[10.38,.60],[10.40,.52],[10.42,.58],
  [10.66,.36],[10.67,.42],
  [11.85,.88],[11.87,.68],[11.89,.45],[11.91,.40],[11.93,.48],[11.95,.44],[11.97,.52],[11.99,.50],[12.01,.56],[12.03,.60],
  [12.05,.55],[12.07,.62],[12.09,.58],[12.11,.56],[12.13,.60],[12.15,.52],[12.17,.55],[12.19,.50],[12.21,.58]
];
// target band for BLIQ ratio
const bandT = [0.85, 12.72];
const bandLo = [0.5, 0.5];
const bandHi = [1.0, 1.0];

const X_MIN = 0.51, X_MAX = 13.05;
const FONT = 'DejaVu Sans';
const xy = arr => arr.map(p => ({x: p[0], y: p[1]}));

function xAxis(h) {
  return {
    type: 'linear', min: X_MIN, max: X_MAX,
    afterBuildTicks: s => { s.ticks = hourTicks.map(v => ({value: v})); },
    afterFit: s => { s.height = h; },
    ticks: {
      autoSkip: false, maxRotation: 0, padding: 2, color: '#000',
      font: {family: FONT, size: 15},
      callback: v => hourLabels[hourTicks.indexOf(v)]
    },
    grid: {drawOnChartArea: false, drawTicks: true, tickLength: 4, tickColor: '#000', tickWidth: 1},
    border: {color: '#000', width: 1.2}
  };
}

function yAxis(min, max, step, vals, text, colorOf) {
  const lines = [];
  for (let v = Math.ceil(min / step - 1e-9) * step; v <= max + 1e-9; v += step) {
    lines.push(Math.round(v * 1000) / 1000);
  }
  return {
    type: 'linear', min, max,
    afterBuildTicks: s => { s.ticks = lines.map(v => ({value: v})); },
    afterFit: s => { s.width = 44; },
    ticks: {
      autoSkip: false, padding: 5, color: '#000',
      font: {family: FONT, size: 15},
      callback: v => {
        const i = vals.findIndex(l => Math.abs(l - v) < 1e-6);
        return i < 0 ? '' : text[i];
      }
    },
    grid: {drawTicks: false, lineWidth: 1, color: c => colorOf(c.tick.value)},
    border: {color: '#000', width: 1.2}
  };
}

const near = (v, m) => Math.abs(v / m - Math.round(v / m)) < 1e-6;
const gridA = v => near(v, 1) ? 'rgba(0,0,0,0.55)' : near(v, 0.5) ? 'rgba(0,0,0,0.3)' : 'rgba(0,0,0,0.1)';
const gridC = v => near(v, 1) ? 'rgba(0,0,0,0.55)' : near(v, 0.5) ? 'rgba(0,0,0,0.28)' : 'rgba(0,0,0,0.045)';
const gridB = v => near(v, 0.5) ? 'rgba(0,0,0,0.55)' : 'rgba(0,0,0,0.05)';

function baseOptions(title, padTop, padBottom, xh, y) {
  return {
    responsive: true, maintainAspectRatio: false, animation: false, events: [],
    layout: {padding: {left: 0, right: 23, top: 0, bottom: 0}},
    scales: {x: xAxis(xh), y},
    plugins: {
      legend: {display: false},
      tooltip: {enabled: false},
      title: {
        display: true, text: title, fullSize: false, color: '#000',
        font: {family: FONT, size: 15, weight: 'normal'},
        padding: {top: padTop, bottom: padBottom}
      }
    }
  };
}

const GC1 = 'rgba(232,168,56,0.9)';
const GC2 = 'rgba(40,128,128,0.9)';
const DIMM = '#0000e6';
const DIMM_FILL = '#f0f048';

// speckled texture standing in for the thousands of overlapping cloud markers
function cloudPattern(bg, ink, plus) {
  const t = document.createElement('canvas');
  t.width = 10; t.height = 10;
  const g = t.getContext('2d');
  g.fillStyle = bg; g.fillRect(0, 0, 10, 10);
  g.strokeStyle = ink; g.lineWidth = 1.2;
  g.beginPath();
  [[2.5, 2.5], [7.5, 7.5]].forEach(([cx, cy]) => {
    if (plus) { g.moveTo(cx - 2.5, cy); g.lineTo(cx + 2.5, cy); g.moveTo(cx, cy - 2.5); g.lineTo(cx, cy + 2.5); }
    else { g.moveTo(cx - 2, cy - 2); g.lineTo(cx + 2, cy + 2); g.moveTo(cx + 2, cy - 2); g.lineTo(cx - 2, cy + 2); }
  });
  g.stroke();
  return g.createPattern(t, 'repeat');
}
const GC1_FILL = cloudPattern('rgb(216,190,146)', 'rgba(234,168,54,0.6)', false);
const GC2_FILL = cloudPattern('rgb(178,202,200)', 'rgba(40,128,128,0.45)', true);

// legend drawn inside the DIQ axes, two columns like the original
const diqLegend = {
  id: 'diqLegend',
  afterDraw(chart) {
    const c = chart.ctx;
    c.save();
    c.strokeStyle = '#333'; c.lineWidth = 1;
    c.strokeRect(64.5, 45.5, 177, 92);
    const rows = [[84, 65, 103], [179, 65, 198], [84, 91, 103], [179, 91, 198], [84, 116, 103]];
    c.strokeStyle = GC1; c.lineWidth = 1.6;
    c.beginPath(); c.moveTo(80, 61); c.lineTo(88, 69); c.moveTo(88, 61); c.lineTo(80, 69); c.stroke();
    c.strokeStyle = GC2;
    c.beginPath(); c.moveTo(174, 65); c.lineTo(184, 65); c.moveTo(179, 60); c.lineTo(179, 70); c.stroke();
    c.strokeStyle = 'rgba(170,170,170,0.8)'; c.lineWidth = 1;
    c.beginPath(); c.moveTo(73, 91); c.lineTo(95, 91); c.moveTo(168, 91); c.lineTo(190, 91); c.stroke();
    c.fillStyle = '#ffb000'; c.strokeStyle = '#ff2600';
    c.beginPath(); c.moveTo(84, 85.5); c.lineTo(89.5, 91); c.lineTo(84, 96.5); c.lineTo(78.5, 91); c.closePath(); c.fill(); c.stroke();
    c.fillStyle = '#555'; c.strokeStyle = '#222';
    c.beginPath(); c.moveTo(174.5, 87); c.lineTo(183.5, 87); c.lineTo(179, 95); c.closePath(); c.fill(); c.stroke();
    c.strokeStyle = DIMM; c.lineWidth = 2;
    c.beginPath(); c.moveTo(73, 116); c.lineTo(95, 116); c.stroke();
    c.fillStyle = DIMM_FILL; c.lineWidth = 1.5;
    c.beginPath(); c.arc(84, 116, 3.6, 0, Math.PI * 2); c.fill(); c.stroke();
    c.fillStyle = '#000'; c.textBaseline = 'middle'; c.textAlign = 'left';
    c.font = '12.5px "DejaVu Sans"';
    seriesNames.forEach((n, i) => c.fillText(n, rows[i][2], rows[i][1] + 2));
    c.restore();
  }
};

new Chart(document.getElementById('c1'), {
  type: 'line',
  data: {
    datasets: [
      {label: 'dimm', data: xy(dimm), order: 0, showLine: true, borderColor: DIMM, borderWidth: 2,
       pointStyle: 'circle', pointRadius: 3.6, pointBackgroundColor: DIMM_FILL, pointBorderColor: DIMM, pointBorderWidth: 1.5},
      {label: 'wfs1', data: xy(wfs1), order: 1, showLine: true, borderColor: 'rgba(160,160,160,0.6)', borderWidth: 0.8,
       pointStyle: 'rectRot', pointRadius: 5.5, pointBackgroundColor: '#ffb400', pointBorderColor: '#ff2600', pointBorderWidth: 1},
      {label: 'wfs2', data: xy(wfs2), order: 2, showLine: true, borderColor: 'rgba(170,170,170,0.6)', borderWidth: 0.8,
       pointStyle: 'triangle', rotation: 180, pointRadius: 5, pointBackgroundColor: '#555', pointBorderColor: '#222'},
      {label: 'gc2', data: xy(gc2Pts), order: 3, showLine: false,
       pointStyle: 'cross', pointRadius: 5, pointBorderColor: GC2, pointBorderWidth: 1.5},
      {label: 'gc2 lo', data: gc2Band.map(p => ({x: p[0], y: p[2]})), order: 4, showLine: true, borderWidth: 0,
       borderColor: 'transparent', spanGaps: false,
       pointStyle: 'cross', pointRadius: 5, pointBorderColor: GC2, pointBorderWidth: 1.5},
      {label: 'gc2 hi', data: gc2Band.map(p => ({x: p[0], y: p[1]})), order: 5, showLine: true, borderWidth: 0,
       borderColor: 'transparent', spanGaps: false, fill: '-1', backgroundColor: GC2_FILL,
       pointStyle: 'cross', pointRadius: 5, pointBorderColor: GC2, pointBorderWidth: 1.5},
      {label: 'gc1', data: xy(gc1Out), order: 6, showLine: false,
       pointStyle: 'crossRot', pointRadius: 5.5, pointBorderColor: GC1, pointBorderWidth: 1.6},
      {label: 'gc1 lo', data: gc1Band.map(p => ({x: p[0], y: p[2]})), order: 7, showLine: true, borderWidth: 0,
       borderColor: 'transparent', spanGaps: false,
       pointStyle: 'crossRot', pointRadius: 5.5, pointBorderColor: GC1, pointBorderWidth: 1.6},
      {label: 'gc1 hi', data: gc1Band.map(p => ({x: p[0], y: p[1]})), order: 8, showLine: true, borderWidth: 0,
       borderColor: 'transparent', spanGaps: false, fill: '-1', backgroundColor: GC1_FILL,
       pointStyle: 'crossRot', pointRadius: 5.5, pointBorderColor: GC1, pointBorderWidth: 1.6}
    ]
  },
  options: baseOptions(titles[0], 16, 6, 26, yAxis(0.32, 3.5, 0.1, diqTicks, diqTickText, gridA)),
  plugins: [diqLegend]
});

new Chart(document.getElementById('c2'), {
  type: 'line',
  data: {
    datasets: [
      {label: 'WFS', data: xy(wfs), order: 0, showLine: true, borderColor: 'rgba(175,175,175,0.8)', borderWidth: 1,
       pointStyle: 'crossRot', pointRadius: 6, pointBorderColor: '#ff0000', pointBorderWidth: 2.5},
      {label: 'Guider', data: xy(guider), order: 1, showLine: true, borderColor: 'rgba(180,180,180,0.9)', borderWidth: 1,
       pointStyle: 'circle', pointRadius: 6, pointBackgroundColor: '#800080', pointBorderColor: '#dcc8e6', pointBorderWidth: 2}
    ]
  },
  options: baseOptions(titles[1], 7.5, 5.5, 25, yAxis(-1.35, 2.5, 0.1, gwTicks, gwTickText, gridC))
});

new Chart(document.getElementById('c3'), {
  type: 'line',
  data: {
    datasets: [
      {label: 'ratio', data: xy(bliq), order: 0, showLine: false,
       pointStyle: 'circle', pointRadius: 5, pointBackgroundColor: '#000080', pointBorderColor: '#c4c8dc', pointBorderWidth: 1},
      {label: 'hi', data: bandT.map((t, i) => ({x: t, y: bandHi[i]})), order: 2, showLine: true,
       borderColor: '#b22222', borderWidth: 1.2, borderDash: [4, 3], pointRadius: 0,
       fill: '+1', backgroundColor: 'rgba(255,0,0,0.06)'},
      {label: 'lo', data: bandT.map((t, i) => ({x: t, y: bandLo[i]})), order: 1, showLine: true,
       borderColor: '#b22222', borderWidth: 1.2, borderDash: [4, 3], pointRadius: 0}
    ]
  },
  options: baseOptions(titles[2], 8, 6, 29, yAxis(-0.18, 1.96, 0.05, blTicks, blTickText, gridB))
});
</script>
</body>
</html>
